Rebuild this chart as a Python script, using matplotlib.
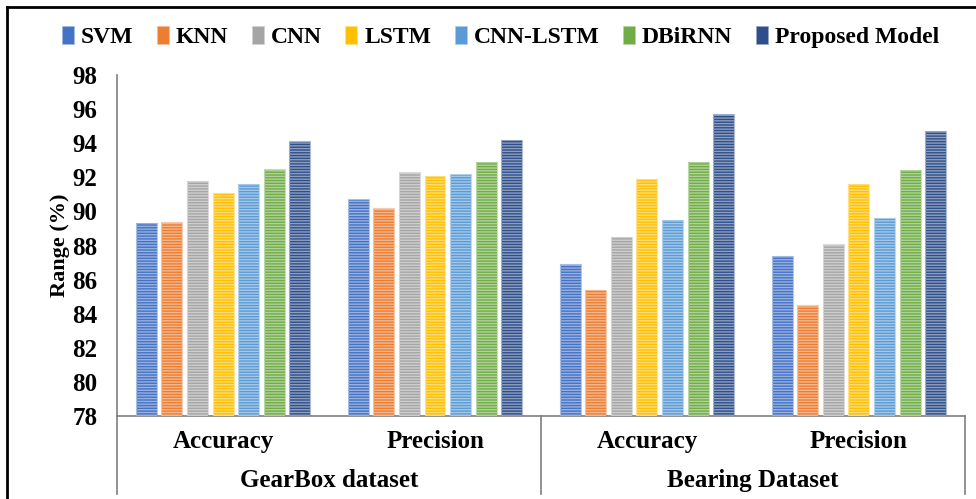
import numpy as np
import matplotlib
matplotlib.use("Agg")
import matplotlib.pyplot as plt
from matplotlib.patches import Patch
from matplotlib.lines import Line2D
from matplotlib.colors import to_rgb

plt.rcParams['font.family'] = ['Liberation Serif', 'DejaVu Serif']
plt.rcParams['font.weight'] = 'bold'
plt.rcParams['hatch.linewidth'] = 1.0

# models and their colours
models = ["SVM", "KNN", "CNN", "LSTM", "CNN-LSTM", "DBiRNN", "Proposed Model"]
colors = ["#4472C4", "#ED7D31", "#A5A5A5", "#FFC000", "#5B9BD5", "#70AD47", "#2F4F8A"]

# metric groups and datasets
metrics = ["Accuracy", "Precision", "Accuracy", "Precision"]
datasets = ["GearBox dataset", "Bearing Dataset"]

# scores (%) per model, in order of the four metric groups
svm = [89.3, 90.7, 86.9, 87.4]
knn = [89.4, 90.2, 85.4, 84.5]
cnn = [91.8, 92.3, 88.5, 88.1]
lstm = [91.1, 92.1, 91.9, 91.6]
cnn_lstm = [91.6, 92.2, 89.5, 89.6]
dbirnn = [92.5, 92.9, 92.9, 92.4]
proposed = [94.1, 94.2, 95.7, 94.7]
scores = [svm, knn, cnn, lstm, cnn_lstm, dbirnn, proposed]

fig = plt.figure(figsize=(9.76, 4.99), dpi=100)
ax = fig.add_axes([0.1199, 0.1663, 0.8688, 0.6834])

y_min, y_max = 78, 98
pitch = 0.121
width = 0.099
x = np.arange(len(metrics)) + 0.5

def lighten(c, amt):
    r, g, b = to_rgb(c)
    return (r + (1 - r) * amt, g + (1 - g) * amt, b + (1 - b) * amt)

for i, (vals, col) in enumerate(zip(scores, colors)):
    xs = x + (i - 3) * pitch
    heights = np.array(vals) - y_min
    ax.bar(xs, heights, width, bottom=y_min, color=col,
           edgecolor=lighten(col, 0.6), linewidth=0.8, zorder=2)
    # horizontal streaks over each bar
    ax.bar(xs, heights, width, bottom=y_min, facecolor="none",
           edgecolor=lighten(col, 0.45), linewidth=0, hatch="------", zorder=3)

ax.set_xlim(0, 4)
ax.set_ylim(y_min, y_max)
ax.set_yticks(np.arange(78, 99, 2))
ax.set_xticks([])
ax.tick_params(axis='y', length=0, pad=14, labelsize=18)
for lab in ax.get_yticklabels():
    lab.set_fontweight('bold')
ax.set_ylabel("Range (%)", fontsize=16, fontweight='bold', labelpad=2)

for s in ["top", "right"]:
    ax.spines[s].set_visible(False)
for s in ["left", "bottom"]:
    ax.spines[s].set_color("#7f7f7f")
    ax.spines[s].set_linewidth(1.2)

# group separators below the axis
sep_y = -0.23
for xv in [0, 2, 4]:
    ax.add_line(Line2D([xv, xv], [0, sep_y], transform=ax.get_xaxis_transform(),
                       color="#7f7f7f", linewidth=1.2, clip_on=False))

for xi, m in zip(x, metrics):
    ax.text(xi, -0.075, m, transform=ax.get_xaxis_transform(), ha='center',
            va='center', fontsize=18, fontweight='bold')
for j, d in enumerate(datasets):
    ax.text(2 * j + 1, -0.19, d, transform=ax.get_xaxis_transform(), ha='center',
            va='center', fontsize=18, fontweight='bold')

handles = [Patch(facecolor=c, edgecolor=lighten(c, 0.5), linewidth=0.5) for c in colors]
fig.legend(handles, models, loc='center', bbox_to_anchor=(0.513, 0.926), ncol=7,
           frameon=False, handlelength=0.5, handleheight=0.8, handletextpad=0.3,
           columnspacing=1.0, prop={'size': 17, 'weight': 'bold'})

# outer frame on the left and top
fig.add_artist(Line2D([0.0072, 0.0072], [0, 0.986], transform=fig.transFigure,
                      color="black", linewidth=2))
fig.add_artist(Line2D([0.0072, 1], [0.986, 0.986], transform=fig.transFigure,
                      color="black", linewidth=2))

fig.savefig("out.png", dpi=100)
